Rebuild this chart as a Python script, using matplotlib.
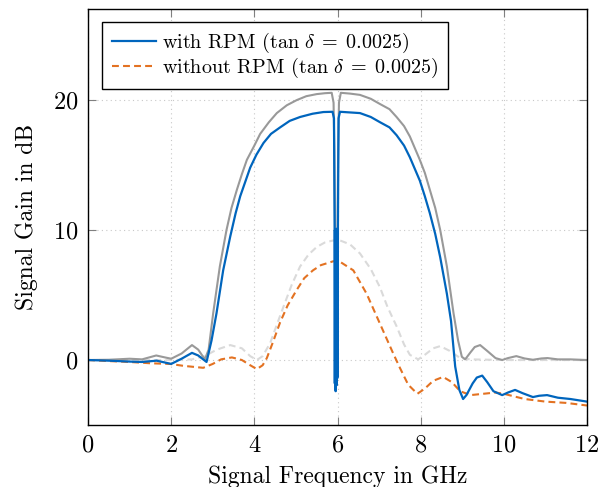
import numpy as np
import matplotlib
matplotlib.use("Agg")
import matplotlib.pyplot as plt

plt.rcParams['font.family'] = ['cmr10', 'DejaVu Serif']
plt.rcParams['mathtext.fontset'] = 'cm'
plt.rcParams['axes.formatter.use_mathtext'] = True

# with RPM, lossy (blue)
f_rpm = [0, 0.5, 1.0, 1.3, 1.65, 2.0, 2.25, 2.5, 2.65, 2.85, 2.97, 3.09, 3.25, 3.42, 3.55, 3.66,
         3.9, 4.05, 4.22, 4.4, 4.62, 4.85, 5.1, 5.4, 5.66, 5.88, 5.915, 5.93,
         5.935, 5.94, 5.945, 5.95, 5.955, 5.96, 5.965, 5.97, 5.975, 5.98, 5.985, 5.99, 5.995, 6.0, 6.005,
         6.01, 6.025, 6.06, 6.3, 6.54, 6.8, 7.02, 7.25, 7.42, 7.6, 7.74, 7.98, 8.1, 8.22,
         8.35, 8.47, 8.63, 8.73, 8.83, 8.93, 9.02, 9.1, 9.25, 9.35, 9.48, 9.6, 9.75, 9.96,
         10.1, 10.27, 10.45, 10.7, 10.85, 11.04, 11.3, 11.6, 12.0]
g_rpm = [0, -0.05, -0.12, -0.15, -0.05, -0.3, 0.1, 0.55, 0.35, -0.15, 1.5, 3.6, 6.9, 9.5, 11.3, 12.6,
         14.8, 15.8, 16.7, 17.4, 17.9, 18.4, 18.7, 18.95, 19.08, 19.1, 18.6, 10.3,
         -1.8, 10.0, -2.2, 9.8, -2.4, 10.0, -2.0, 9.9, -1.6, 10.1, -1.9, 9.8, -1.4, 10.0, -1.2,
         10.3, 18.6, 19.1, 19.05, 19.0, 18.7, 18.3, 17.9, 17.3, 16.5, 15.6, 13.8, 12.6, 11.3,
         9.7, 7.9, 5.1, 3.0, -0.5, -2.3, -3.0, -2.7, -1.8, -1.35, -1.2, -1.7, -2.4, -2.7,
         -2.5, -2.3, -2.55, -2.85, -2.75, -2.7, -2.9, -3.0, -3.2]

# with RPM, lossless (grey)
f_rpm0 = [0, 0.5, 1.0, 1.3, 1.64, 1.85, 2.0, 2.25, 2.5, 2.65, 2.81, 2.9, 3.01, 3.17, 3.33, 3.45,
          3.58, 3.7, 3.82, 4.0, 4.14, 4.35, 4.54, 4.78, 5.02, 5.25, 5.5, 5.7, 5.86, 5.905, 5.925,
          5.94, 5.97, 6.0, 6.015, 6.035, 6.08, 6.3, 6.54, 6.8, 7.02, 7.25, 7.42, 7.6, 7.74,
          7.98, 8.1, 8.22, 8.35, 8.47, 8.63, 8.79, 8.9, 8.99, 9.07, 9.2, 9.3, 9.43, 9.6, 9.8,
          9.96, 10.1, 10.3, 10.5, 10.7, 10.9, 11.05, 11.3, 11.6, 12.0]
g_rpm0 = [0, 0.02, 0.1, 0.05, 0.35, 0.2, 0.1, 0.5, 1.15, 0.8, 0.05, 0.8, 3.6, 7.2, 10.0, 11.7,
          13.1, 14.3, 15.4, 16.5, 17.4, 18.3, 19.0, 19.6, 20.0, 20.3, 20.46, 20.53, 20.56, 19.8, 16.0,
          10.0, 9.5, 10.0, 16.0, 19.8, 20.56, 20.5, 20.4, 20.1, 19.7, 19.3, 18.7, 18.0, 17.2,
          15.4, 14.4, 13.1, 11.7, 10.0, 7.2, 3.6, 1.5, 0.25, 0.05, 0.6, 1.0, 1.15, 0.7, 0.15,
          0.0, 0.15, 0.3, 0.12, 0.02, 0.12, 0.15, 0.05, 0.05, 0.0]

# without RPM, lossy (orange)
f_norpm = [0, 0.5, 1.0, 1.5, 1.97, 2.3, 2.77, 3.0, 3.2, 3.46, 3.7, 3.9, 4.06, 4.2, 4.3, 4.45,
           4.62, 4.8, 5.02, 5.2, 5.41, 5.6, 5.9, 6.06, 6.38, 6.7, 7.02, 7.34, 7.5, 7.7, 7.92,
           8.1, 8.3, 8.54, 8.75, 8.95, 9.2, 9.5, 9.8, 10.0, 10.5, 11.0, 11.5, 12.0]
g_norpm = [0, -0.08, -0.15, -0.25, -0.3, -0.45, -0.6, -0.3, 0.05, 0.2, 0.0, -0.4, -0.7, -0.4, 0.15, 1.4,
           2.9, 4.2, 5.4, 6.3, 6.9, 7.3, 7.6, 7.56, 6.9, 5.1, 2.8, 0.5, -0.6, -1.9, -2.6,
           -2.2, -1.6, -1.3, -1.7, -2.4, -2.7, -2.6, -2.5, -2.6, -3.0, -3.2, -3.3, -3.5]

# without RPM, lossless (light grey)
f_norpm0 = [0, 1.0, 2.0, 2.5, 2.8, 3.1, 3.42, 3.7, 3.9, 4.06, 4.2, 4.38, 4.55, 4.7, 4.9, 5.1,
            5.3, 5.5, 5.7, 5.9, 6.06, 6.3, 6.54, 6.8, 7.02, 7.2, 7.42, 7.6, 7.74, 7.94, 8.1,
            8.3, 8.47, 8.7, 8.95, 9.2, 10.0, 12.0]
g_norpm0 = [0, 0.0, 0.0, 0.05, 0.3, 0.8, 1.15, 0.9, 0.3, 0.0, 0.3, 1.3, 2.8, 4.1, 5.8, 7.2,
            8.1, 8.7, 9.05, 9.2, 9.2, 8.9, 8.2, 7.0, 5.6, 4.1, 2.6, 1.2, 0.4, 0.05, 0.4,
            0.9, 1.07, 0.7, 0.15, 0.05, 0.0, 0.0]

blue = '#0065BD'
orange = '#E37222'
grey = '#999999'
lgrey = '#DADADA'

fig = plt.figure(figsize=(6.10, 4.87), dpi=100)
ax = fig.add_axes([0.1443, 0.1273, 0.818, 0.854])

ax.plot(f_norpm0, g_norpm0, color=lgrey, lw=1.5, linestyle=(0, (3.3, 2)))
ax.plot(f_rpm0, g_rpm0, color=grey, lw=1.5)
l2, = ax.plot(f_norpm, g_norpm, color=orange, lw=1.5, linestyle=(0, (3.3, 2)),
              label=r'without RPM ($\tan\,\delta\;=\;0.0025$)')
l1, = ax.plot(f_rpm, g_rpm, color=blue, lw=1.6,
              label=r'with RPM ($\tan\,\delta\;=\;0.0025$)')

ax.set_xlim(0, 12)
ax.set_ylim(-5, 27)
ax.set_xticks([0, 2, 4, 6, 8, 10, 12])
ax.set_yticks([0, 10, 20])
ax.grid(True, linestyle=(0, (1, 3)), color='#c8c8c8', lw=0.8)
ax.tick_params(direction='in', top=True, right=True, length=6, width=0.8,
               color='#808080', labelsize=17.5, pad=7)
for s in ax.spines.values():
    s.set_linewidth(1.0)

ax.set_xlabel('Signal Frequency in GHz', fontsize=17, labelpad=6)
ax.set_ylabel('Signal Gain in dB', fontsize=17)
ax.yaxis.set_label_coords(-0.101, 0.5)

leg = ax.legend(handles=[l1, l2], loc='upper left', bbox_to_anchor=(0.029, 0.969),
                borderaxespad=0, fancybox=False, framealpha=1, edgecolor='black',
                fontsize=14.5, handlelength=2.2, handletextpad=0.3, borderpad=0.45,
                labelspacing=0.05)
leg.get_frame().set_linewidth(1.0)

fig.savefig('out.png', dpi=100)
